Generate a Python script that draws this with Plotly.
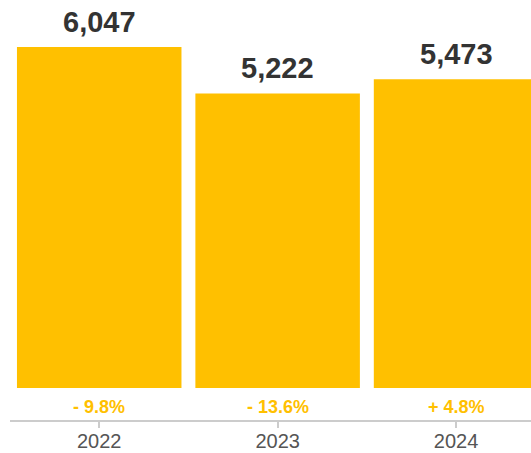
import plotly.graph_objects as go

# Annual totals with year-over-year change
years = ["2022", "2023", "2024"]
totals = [6047, 5222, 5473]
changes = ["- 9.8%", "- 13.6%", "+ 4.8%"]

BAR_COLOR = "#FFC000"
FONT = "Liberation Sans, Arial, Helvetica, sans-serif"

fig = go.Figure(
    go.Bar(
        x=years,
        y=totals,
        marker=dict(color=BAR_COLOR, line=dict(width=0)),
        hoverinfo="skip",
    )
)

annotations = []
for i, (val, chg) in enumerate(zip(totals, changes)):
    # value above each bar (x given as category index)
    annotations.append(dict(
        x=i, y=val, xref="x", yref="y",
        text=f"<b>{val:,}</b>", showarrow=False,
        yanchor="middle", yshift=25,
        font=dict(family=FONT, size=29, color="#333333"),
    ))
    # change label below each bar
    annotations.append(dict(
        x=i, y=0, xref="x", yref="y",
        text=f"<b>{chg}</b>", showarrow=False,
        yanchor="middle", yshift=-19,
        font=dict(family=FONT, size=18, color=BAR_COLOR),
    ))

fig.update_layout(
    width=531, height=453,
    margin=dict(l=10, r=0, t=0, b=33),
    paper_bgcolor="white", plot_bgcolor="white",
    bargap=0.078,
    showlegend=False,
    annotations=annotations,
    font=dict(family=FONT),
    xaxis=dict(
        type="category",
        range=[-0.5, 2.42],
        automargin=False,
        showline=True, linecolor="#cccccc", linewidth=2,
        ticks="outside", ticklen=6, tickcolor="#cccccc", tickwidth=2,
        ticklabelstandoff=-4,
        tickfont=dict(family=FONT, size=20, color="#555555"),
        showgrid=False, zeroline=False,
    ),
    yaxis=dict(
        range=[-567, 6879],
        visible=False, showgrid=False, zeroline=False,
    ),
)

fig.write_html("out.html")
